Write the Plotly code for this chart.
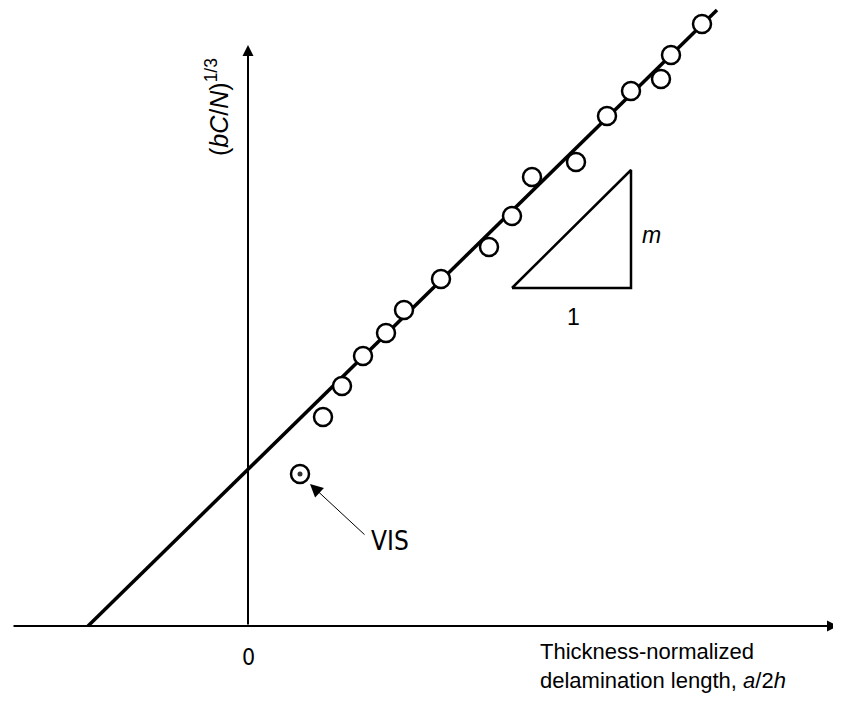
import plotly.graph_objects as go

# Data (normalized units; origin at axes crossing)
pts_x = [0.75, 0.94, 1.15, 1.38, 1.56, 1.93, 2.41, 2.64, 2.84, 3.28, 3.59, 3.83, 4.13, 4.23, 4.54]
pts_y = [2.09, 2.40, 2.70, 2.93, 3.16, 3.47, 3.79, 4.10, 4.49, 4.64, 5.10, 5.35, 5.47, 5.71, 6.02]
vis_x = [0.52]
vis_y = [1.52]
fit_x = [-1.60, 4.69]
fit_y = [0.0, 6.16]
tri_x = [2.64, 3.83, 3.83, 2.64]
tri_y = [3.38, 3.38, 4.56, 3.38]

fig = go.Figure()

# fit line
fig.add_trace(go.Scatter(x=fit_x, y=fit_y, mode="lines",
                         line=dict(color="black", width=3.5), hoverinfo="skip"))
# slope triangle
fig.add_trace(go.Scatter(x=tri_x, y=tri_y, mode="lines",
                         line=dict(color="black", width=2.5), hoverinfo="skip"))
# data points
fig.add_trace(go.Scatter(x=pts_x, y=pts_y, mode="markers",
                         marker=dict(symbol="circle", size=18, color="white",
                                     line=dict(color="black", width=2.5))))
# VIS point
fig.add_trace(go.Scatter(x=vis_x, y=vis_y, mode="markers",
                         marker=dict(symbol="circle", size=18, color="white",
                                     line=dict(color="black", width=2.5))))
fig.add_trace(go.Scatter(x=vis_x, y=vis_y, mode="markers",
                         marker=dict(symbol="circle", size=5, color="#333")))

# axes with arrows
fig.add_annotation(x=5.90, y=0, ax=-2.36, ay=0, xref="x", yref="y", axref="x", ayref="y",
                   text="", showarrow=True, arrowhead=2, arrowsize=1.1, arrowwidth=2,
                   arrowcolor="black")
fig.add_annotation(x=0, y=5.81, ax=0, ay=0, xref="x", yref="y", axref="x", ayref="y",
                   text="", showarrow=True, arrowhead=2, arrowsize=1.1, arrowwidth=2,
                   arrowcolor="black")
# VIS arrow
fig.add_annotation(x=0.62, y=1.42, ax=1.18, ay=0.90, xref="x", yref="y", axref="x", ayref="y",
                   text="", showarrow=True, arrowhead=2, arrowsize=2.6, arrowwidth=1,
                   arrowcolor="black")

cond = "Liberation Sans Narrow, DejaVu Sans Condensed, DejaVu Sans"
arial = "Liberation Sans, Arial"
fig.add_annotation(x=1.42, y=0.85, text="VIS", showarrow=False,
                   font=dict(family=cond, size=26, color="black"))
fig.add_annotation(x=0, y=-0.31, text="0", showarrow=False,
                   font=dict(family=cond, size=23, color="black"))
fig.add_annotation(x=4.03, y=3.91, text="<i>m</i>", showarrow=False,
                   font=dict(family=arial, size=23, color="black"))
fig.add_annotation(x=3.25, y=3.09, text="1", showarrow=False,
                   font=dict(family=arial, size=23, color="black"))
fig.add_annotation(x=-0.31, y=5.19, text="(<i>bC</i>/<i>N</i>)<sup>1/3</sup>", showarrow=False,
                   textangle=-90, font=dict(family=arial, size=25, color="black"))
fig.add_annotation(x=2.90, y=-0.40, xanchor="left", align="left",
                   text="Thickness-normalized<br>delamination length, <i>a</i>/2<i>h</i>",
                   showarrow=False, font=dict(family=arial, size=22, color="black"))

# page body has an 8px margin, so ranges are shifted to keep the reference layout
fig.update_layout(
    width=841, height=702,
    margin=dict(l=0, r=0, t=0, b=0),
    paper_bgcolor="white", plot_bgcolor="white",
    showlegend=False,
    xaxis=dict(range=[-2.40, 6.01], visible=False, fixedrange=True),
    yaxis=dict(range=[-0.84, 6.18], visible=False, fixedrange=True),
)

fig.write_html("out.html")
